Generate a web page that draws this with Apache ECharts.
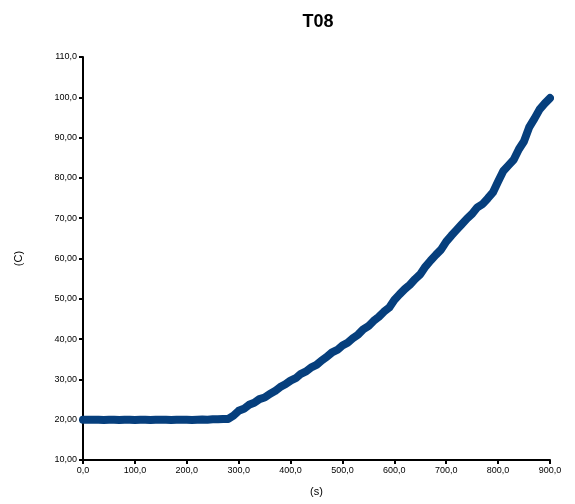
<!DOCTYPE html>
<html><head><meta charset="utf-8">
<script src="https://cdn.jsdelivr.net/npm/echarts@6/dist/echarts.min.js"></script>
<style>html,body{margin:0;padding:0;background:#fff}#c{width:575px;height:504px}</style>
</head><body><div id="c"></div>
<script>
const titleText = "T08";
const xName = "(s)";
const yName = "(C)";
const timeS = [0,10,20,30,40,50,60,70,80,90,100,110,120,130,140,150,160,170,180,190,200,210,220,230,240,250,260,270,280,290,300,310,320,330,340,350,360,370,380,390,400,410,420,430,440,450,460,470,480,490,500,510,520,530,540,550,560,570,580,590,600,610,620,630,640,650,660,670,680,690,700,710,720,730,740,750,760,770,780,790,800,810,820,830,840,850,860,870,880,890,900];
const tempC = [20.0,20.0,20.0,20.0,19.95,20.0,20.0,19.95,20.0,20.0,19.95,20.0,20.0,19.95,20.0,20.0,20.0,19.95,20.0,20.0,20.0,19.95,20.0,20.05,20.0,20.1,20.1,20.2,20.2,21.0,22.2,22.7,23.7,24.2,25.1,25.5,26.4,27.1,28.1,28.8,29.7,30.3,31.4,32.0,33.0,33.6,34.7,35.6,36.7,37.3,38.4,39.1,40.2,41.1,42.4,43.2,44.5,45.5,46.8,47.8,49.7,51.1,52.4,53.5,54.9,56.1,58.0,59.5,60.9,62.2,64.2,65.7,67.1,68.5,69.9,71.1,72.7,73.5,74.9,76.4,79.1,81.7,83.1,84.5,87.1,89.1,92.6,94.7,97.0,98.5,99.8];
const xTickLabels = {0:"0,0",100:"100,0",200:"200,0",300:"300,0",400:"400,0",500:"500,0",600:"600,0",700:"700,0",800:"800,0",900:"900,0"};
const yTickLabels = {10:"10,00",20:"20,00",30:"30,00",40:"40,00",50:"50,00",60:"60,00",70:"70,00",80:"80,00",90:"90,00",100:"100,0",110:"110,0"};

const chart = echarts.init(document.getElementById('c'), null, {renderer:'canvas'});
const axisCommon = {
  axisLine:{show:true, onZero:false, lineStyle:{color:'#000', width:2}},
  axisTick:{show:true, length:4, lineStyle:{color:'#000', width:2}},
  splitLine:{show:false},
  nameTextStyle:{color:'#000', fontFamily:'Arial, Liberation Sans', fontSize:11}
};
chart.setOption({
  animation:false,
  backgroundColor:'#fff',
  title:{text:titleText, left:313, top:8, textAlign:'center',
    textStyle:{fontFamily:'Arial, Liberation Sans', fontWeight:'bold', fontSize:18, color:'#000'}},
  grid:{left:83, right:25, top:57, bottom:44, containLabel:false},
  xAxis:Object.assign({}, axisCommon, {
    type:'value', min:0, max:900, interval:100,
    name:xName, nameLocation:'middle', nameGap:26,
    axisLabel:{color:'#000', fontFamily:'Arial, Liberation Sans', fontSize:9, margin:6,
      formatter:v=>xTickLabels[v] ?? ''}
  }),
  yAxis:Object.assign({}, axisCommon, {
    type:'value', min:10, max:110, interval:10,
    name:yName, nameLocation:'middle', nameGap:59, nameRotate:90,
    axisLabel:{color:'#000', fontFamily:'Arial, Liberation Sans', fontSize:9, margin:6,
      formatter:v=>yTickLabels[v] ?? ''}
  }),
  series:[{
    type:'line', showSymbol:false, smooth:false,
    data:timeS.map((t,i)=>[t,tempC[i]]),
    lineStyle:{color:'#063f7d', width:8, cap:'round', join:'round'},
    itemStyle:{color:'#063f7d'}
  }]
});
</script></body></html>
